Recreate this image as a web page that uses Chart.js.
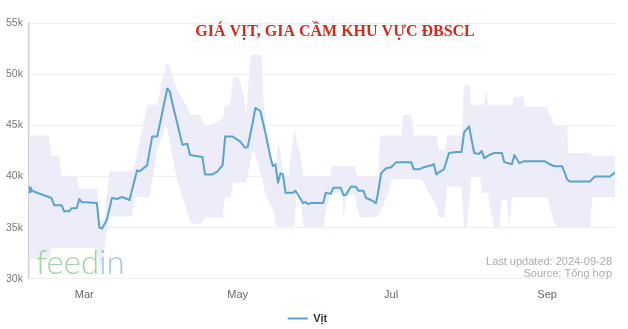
<!DOCTYPE html>
<html>
<head>
<meta charset="utf-8">
<script src="https://cdn.jsdelivr.net/npm/chart.js@4.4.1/dist/chart.umd.min.js"></script>
<style>
  html, body { margin: 0; padding: 0; background: #fff; }
  #wrap { width: 628px; height: 329px; }
</style>
</head>
<body>
<div id="wrap"><canvas id="myChart"></canvas></div>
<script>
// x values are day of year 2024 (Mar 1 = 61), prices in thousand VND/kg
var priceDays = [39, 48, 49, 52, 53, 55, 56, 58, 59, 60, 66, 67, 68, 69, 70, 72, 74, 76, 78, 79,
    82, 83, 86, 88, 90, 94, 95, 96, 100, 102, 103, 108, 109, 112, 114, 116, 117, 120, 123, 125,
    126, 128, 129, 131, 133, 135, 136, 137, 138, 139, 140, 141, 144, 145, 148, 149, 150, 151, 156, 157,
    159, 160, 163, 164, 165, 167, 169, 170, 172, 173, 175, 177, 178, 179, 181, 183, 185, 191, 192, 194,
    196, 199, 200, 201, 202, 204, 206, 209, 211, 212, 214, 216, 218, 219, 220, 222, 224, 227, 228, 231,
    232, 234, 236, 244, 246, 248, 251, 253, 254, 262, 264, 270, 272];
var priceVit = [38.7, 37.9, 37.2, 37.2, 36.6, 36.6, 36.9, 36.9, 37.8, 37.5, 37.4, 35.0, 34.9, 35.3, 35.8, 37.9, 37.8, 38.0, 37.8, 37.7,
    40.6, 40.5, 41.1, 43.9, 43.9, 48.6, 48.3, 47.2, 43.1, 43.2, 42.1, 41.9, 40.2, 40.2, 40.5, 41.1, 43.9, 43.9, 43.4, 42.8,
    42.9, 45.3, 46.7, 46.4, 44.3, 41.9, 41.0, 41.2, 39.4, 40.3, 40.2, 38.4, 38.4, 38.6, 37.4, 37.5, 37.3, 37.4, 37.4, 38.4,
    38.3, 38.9, 38.9, 38.2, 38.2, 39.0, 39.0, 38.6, 38.6, 37.9, 37.7, 37.4, 38.7, 40.3, 40.8, 40.9, 41.4, 41.4, 40.7, 40.7,
    40.9, 41.1, 41.2, 40.2, 40.4, 40.7, 42.3, 42.4, 42.4, 44.3, 44.9, 42.3, 42.2, 42.5, 41.8, 42.1, 42.3, 42.3, 41.4, 41.2,
    42.1, 41.3, 41.5, 41.5, 41.2, 41.0, 41.0, 39.7, 39.5, 39.5, 40.0, 40.0, 40.4];

// min / max range between provinces
var rangeDays = [39, 47, 48, 51, 52, 58, 59, 65, 66, 67.5, 69, 71, 80, 81, 86, 87, 88, 90, 93.5, 94.5,
    98, 102, 103, 107, 109, 113, 116, 117, 119, 120.3, 122.7, 124.3, 125.5, 126.7, 127.5, 128.3, 131.5, 132.3, 133.5, 136.3,
    137.5, 138.3, 140.3, 142.2, 144.6, 145.4, 146.6, 148.2, 156, 157.4, 158.6, 159.4, 163.4, 164.1, 165.3, 168.5, 169.5, 170.5, 176.1, 178,
    178.5, 181.3, 183.3, 187.2, 187.6, 191.2, 192, 195.2, 201.2, 202, 204.4, 205.2, 211.1, 211.9, 213, 214.3, 214.7, 215.1, 218.3, 219.1,
    219.9, 220.7, 221.5, 222, 224, 226, 227, 229, 230, 231, 231.9, 235.8, 236.2, 245, 247.8, 249, 253, 253.4, 262, 263, 273];
var rangeLow = [32, 32, 33, 33, 33, 33, 33, 33, 32.5, 30.8, 33, 36.1, 36.1, 38, 38, 38, 39.4, 42.5, 45, 44,
    39.5, 36.5, 35.5, 35.3, 36, 36, 36, 38, 38, 39.4, 39.4, 39.4, 39.4, 41, 42, 42.6, 40, 39, 38, 36.5,
    35.1, 35.1, 35.1, 35.1, 35.1, 38.7, 38.7, 35, 35, 37, 38.4, 38.4, 38.4, 36, 38.2, 38.2, 37, 36, 36, 36.2,
    36.5, 38, 39.7, 39.7, 39.7, 39.7, 39.7, 39.7, 37, 36, 36, 39, 39, 35, 35, 38, 39.5, 40, 40, 38.4,
    38.4, 38.4, 38.4, 37.5, 35, 35, 37.7, 37.7, 35, 38, 38, 38, 38, 38, 35.5, 35, 35, 35, 35, 38, 38];
var rangeHigh = [44, 44, 42, 42, 40, 40, 38.8, 38.8, 38.8, 35.5, 36, 40.5, 40.5, 41, 47, 47, 47, 47, 51, 51,
    48.4, 46.8, 46, 46, 45, 45.2, 45.8, 47, 47, 49.8, 49.5, 48, 46, 51, 51.9, 51.9, 51.9, 47.2, 43.9, 40.4,
    42, 43.6, 40, 40.2, 44.8, 43.5, 42.6, 40, 40, 40, 40, 41, 41, 41, 41, 41, 40, 40, 40, 40,
    44, 44, 44, 44, 46, 46, 44, 44, 44, 42.6, 42.6, 44, 44, 48.9, 48.9, 48.9, 47, 47, 47, 47,
    47, 48.5, 47, 47, 47, 47, 47, 47, 47, 47, 47.8, 47.8, 46.8, 46.8, 45, 45, 45, 42.3, 42.3, 42, 42];

var monthTicks = [61, 122, 183, 245];
var monthLabels = ["Mar", "May", "Jul", "Sep"];

function toPoints(days, values) {
    return days.map(function (d, i) { return {x: d, y: values[i]}; });
}

var overlayText = {
    id: "overlayText",
    afterDraw: function (chart) {
        var ctx = chart.ctx;
        ctx.save();
        // title
        ctx.fillStyle = "#cf2a1e";
        ctx.font = "bold 16px 'Liberation Serif', 'DejaVu Serif', serif";
        ctx.textAlign = "center";
        ctx.textBaseline = "middle";
        ctx.fillText("GIÁ VỊT, GIA CẦM KHU VỰC ĐBSCL", 335, 32);
        // notes
        ctx.fillStyle = "#ababab";
        ctx.font = "11px 'Liberation Sans', Arial, sans-serif";
        ctx.textAlign = "right";
        ctx.fillText("Last updated: 2024-09-28", 612, 262);
        ctx.fillText("Source: Tổng hợp", 612, 274);
        // watermark
        ctx.textAlign = "left";
        ctx.textBaseline = "alphabetic";
        ctx.font = "300 33px Lato, 'Noto Sans', sans-serif";
        ctx.fillStyle = "rgba(120, 190, 130, 0.7)";
        ctx.fillText("feed", 36, 274);
        var w = ctx.measureText("feed").width;
        ctx.fillStyle = "rgba(110, 180, 205, 0.7)";
        ctx.fillText("in", 36 + w, 274);
        ctx.restore();
    }
};

new Chart("myChart", {
    type: "line",
    data: {
        datasets: [{
            label: "Vịt",
            data: toPoints(priceDays, priceVit),
            borderColor: "#58a4cc",
            backgroundColor: "#58a4cc",
            borderWidth: 2,
            borderJoinStyle: "round",
            pointRadius: function (c) { return c.dataIndex === 0 ? 2.5 : 0; },
            pointBackgroundColor: "#58a4cc",
            tension: 0,
            order: 0
        }, {
            label: "max",
            data: toPoints(rangeDays, rangeHigh),
            borderWidth: 0,
            borderColor: "rgba(0,0,0,0)",
            backgroundColor: "#ecedf8",
            pointRadius: 0,
            fill: "+1",
            order: 1
        }, {
            label: "min",
            data: toPoints(rangeDays, rangeLow),
            borderWidth: 0,
            borderColor: "rgba(0,0,0,0)",
            pointRadius: 0,
            fill: false,
            order: 2
        }]
    },
    options: {
        responsive: true,
        maintainAspectRatio: false,
        animation: false,
        layout: {padding: {top: 23, right: 13, left: 0, bottom: -5}},
        scales: {
            x: {
                type: "linear",
                min: 39,
                max: 272,
                afterBuildTicks: function (scale) {
                    scale.ticks = monthTicks.map(function (v) { return {value: v}; });
                },
                ticks: {
                    padding: 10,
                    color: "#666",
                    font: {size: 11, family: "'Liberation Sans', Arial, sans-serif"},
                    maxRotation: 0,
                    autoSkip: false,
                    callback: function (v) {
                        var i = monthTicks.indexOf(v);
                        return i >= 0 ? monthLabels[i] : "";
                    }
                },
                grid: {display: false, drawTicks: false},
                border: {display: false}
            },
            y: {
                min: 30,
                max: 55,
                ticks: {
                    stepSize: 5,
                    padding: 6,
                    color: "#777",
                    font: {size: 10.5, family: "'Liberation Sans', Arial, sans-serif"},
                    callback: function (v) { return v + "k"; }
                },
                grid: {color: "#efefef", drawTicks: false},
                border: {display: true, color: "#d0d0d0", width: 1.5}
            }
        },
        plugins: {
            legend: {
                position: "bottom",
                labels: {
                    usePointStyle: true,
                    pointStyle: "line",
                    pointStyleWidth: 20,
                    padding: 1,
                    color: "#333",
                    font: {size: 11, weight: "bold", family: "'Liberation Sans', Arial, sans-serif"},
                    filter: function (item) { return item.datasetIndex === 0; }
                }
            },
            tooltip: {enabled: false}
        }
    },
    plugins: [overlayText]
});
</script>
</body>
</html>
